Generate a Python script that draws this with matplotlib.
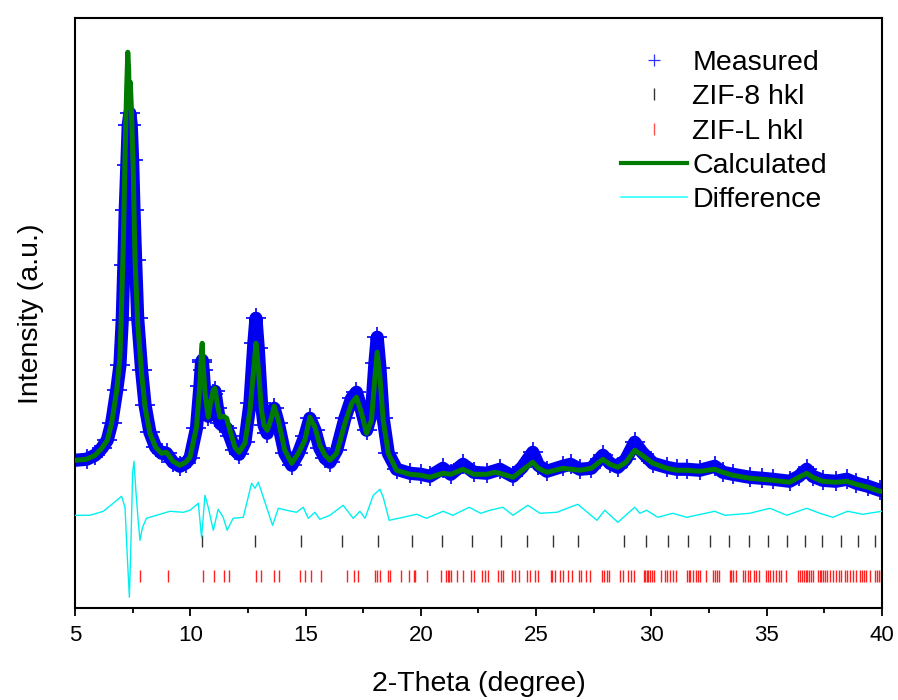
"""Rietveld-style refinement plot for the ZIF-8 / ZIF-L powder pattern.

Measured points, calculated profile, difference curve and the two sets
of hkl reflection markers, all read off the original figure.
"""

import matplotlib
matplotlib.use('Agg')
import matplotlib.pyplot as plt
from matplotlib.lines import Line2D

plt.rcParams['font.family'] = ['Liberation Sans', 'DejaVu Sans']

# measured pattern (2-theta, intensity a.u.)
meas_tth = [5.0, 5.5, 5.87, 6.16, 6.4, 6.59, 6.81, 6.95, 7.05, 7.12, 7.18,
            7.25, 7.31, 7.38, 7.44, 7.50, 7.56, 7.63, 7.72, 7.89, 8.04, 8.25,
            8.5, 8.76, 8.97, 9.25, 9.55, 9.80, 9.99, 10.27, 10.42, 10.49,
            10.52, 10.56, 10.64, 10.78, 10.9, 11.0, 11.07, 11.18, 11.29,
            11.45, 11.58, 11.72, 11.94, 12.12, 12.37, 12.59, 12.76, 12.85,
            12.95, 13.09, 13.20, 13.34, 13.53, 13.64, 13.82, 14.1, 14.4,
            14.69, 14.97, 15.19, 15.41, 15.62, 15.85, 16.06, 16.35, 16.71,
            17.0, 17.21, 17.43, 17.65, 17.86, 18.01, 18.11, 18.23, 18.37,
            18.59, 18.95, 19.53, 20.0, 20.39, 20.96, 21.3, 21.83, 22.3, 22.87,
            23.43, 24.0, 24.4, 24.86, 25.1, 25.47, 26.16, 26.5, 26.9, 27.4,
            27.9, 28.2, 28.55, 28.9, 29.28, 29.6, 30.07, 30.67, 31.1, 31.54,
            32.1, 32.75, 33.1, 33.53, 34.27, 34.8, 35.27, 36.0, 36.4, 36.74,
            37.0, 37.43, 38.0, 38.48, 38.9, 39.4, 39.9, 40.0]
meas_int = [148, 149, 153, 160, 168, 185, 218, 243, 288, 343, 398,
            443, 483, 495, 483, 448, 398, 348, 290, 238, 203, 176,
            161, 155, 155, 146, 142, 145, 150, 180, 222, 246,
            248, 238, 212, 192, 205, 214, 217, 200, 185,
            182, 180, 172, 158, 154, 166, 205, 265, 290,
            260, 205, 183, 175, 192, 200, 185, 155, 143,
            155, 172, 190, 178, 160, 150, 146, 158, 190,
            210, 216, 198, 178, 195, 245, 271, 240, 190,
            155, 139, 135, 134, 132, 140, 134, 144, 136, 135,
            139, 132, 141, 156, 143, 137, 142, 144, 139, 140,
            153, 145, 141, 149, 166, 156, 145, 141, 139, 139,
            138, 142, 136, 134, 131, 130, 129, 127, 132, 139,
            132, 128, 127, 129, 125, 122, 118, 118]

# calculated profile
calc_tth = [5.0, 5.5, 5.87, 6.16, 6.4, 6.59, 6.81, 6.95, 7.02, 7.10, 7.17,
            7.24, 7.29, 7.33, 7.36, 7.40, 7.45, 7.53, 7.60, 7.72, 7.89, 8.04,
            8.25, 8.5, 8.76, 8.97, 9.25, 9.55, 9.80, 9.99, 10.27, 10.42,
            10.49, 10.52, 10.56, 10.64, 10.78, 10.9, 11.0, 11.07, 11.18,
            11.29, 11.45, 11.58, 11.72, 11.94, 12.12, 12.37, 12.59, 12.76,
            12.85, 12.95, 13.09, 13.20, 13.34, 13.53, 13.64, 13.82, 14.1,
            14.4, 14.69, 14.97, 15.19, 15.41, 15.62, 15.85, 16.06, 16.35,
            16.71, 17.0, 17.21, 17.43, 17.65, 17.86, 18.01, 18.11, 18.23,
            18.37, 18.59, 18.95, 19.53, 20.0, 20.39, 20.96, 21.3, 21.83, 22.3,
            22.87, 23.2, 23.43, 24.0, 24.4, 24.86, 25.1, 25.47, 26.16, 26.9,
            27.4, 27.9, 28.2, 28.55, 28.9, 29.28, 29.6, 30.07, 30.67, 31.1,
            31.54, 32.1, 32.75, 33.1, 33.53, 34.27, 34.8, 35.27, 36.0, 36.4,
            36.74, 37.0, 37.43, 38.0, 38.48, 38.9, 39.4, 39.9, 40.0]
calc_int = [148, 149, 153, 160, 168, 185, 218, 251, 301, 368, 451,
            518, 556, 538, 501, 526, 498, 435, 351, 285, 235, 201,
            175, 161, 155, 156, 147, 143, 146, 151, 181, 225,
            258, 265, 243, 215, 191, 208, 218, 220, 203,
            191, 192, 190, 178, 161, 156, 165, 198, 241,
            265, 241, 198, 183, 178, 191, 202, 188, 158,
            145, 155, 168, 191, 181, 163, 153, 148, 155,
            185, 205, 211, 195, 175, 188, 231, 256, 231,
            188, 155, 138, 134, 133, 131, 135, 134, 139, 134,
            134, 136, 135, 131, 138, 146, 140, 136, 140, 138,
            140, 149, 144, 141, 146, 158, 153, 145, 140, 138,
            138, 137, 139, 136, 133, 130, 129, 128, 126, 131,
            135, 131, 127, 126, 127, 124, 121, 117, 117]

# difference curve (already offset below the pattern)
diff_tth = [5.0, 5.65, 6.23, 6.66, 7.02, 7.17, 7.27, 7.36, 7.43, 7.50, 7.56,
            7.64, 7.75, 7.82, 7.93, 8.1, 8.54, 9.12, 9.70, 9.99, 10.35, 10.49,
            10.64, 10.78, 11.0, 11.21, 11.43, 11.6, 11.86, 12.3, 12.66, 12.81,
            12.95, 13.17, 13.57, 13.82, 14.18, 14.61, 14.9, 15.12, 15.41,
            15.62, 16.06, 16.63, 17.07, 17.36, 17.58, 17.94, 18.23, 18.37,
            18.63, 19.24, 19.82, 20.25, 20.97, 21.39, 22.1, 22.6, 23.0, 23.56,
            24.0, 24.64, 25.17, 25.9, 26.81, 27.64, 27.98, 28.55, 29.28, 29.5,
            29.8, 30.28, 30.93, 31.54, 32.75, 33.19, 34.27, 35.14, 35.88,
            36.74, 37.31, 37.87, 38.52, 39.17, 40.0]
diff_int = [93, 93, 97, 105, 112, 101, 51, 11, 68, 135, 147,
            118, 85, 68, 81, 90, 93, 97, 96, 98, 105, 71,
            113, 101, 78, 99, 91, 78, 90, 91, 125, 120,
            126, 111, 83, 100, 98, 96, 101, 90, 96,
            89, 93, 103, 90, 97, 90, 113, 119, 111,
            88, 91, 94, 90, 97, 93, 101, 95, 98, 101,
            93, 103, 95, 96, 104, 88, 98, 86, 101, 95,
            98, 91, 95, 91, 97, 93, 95, 100, 93,
            100, 95, 91, 97, 94, 97]

# reflection positions
zif8_hkl = [10.49, 12.81, 14.80, 16.57, 18.15, 19.60, 20.94, 22.23, 23.46,
            24.59, 25.72, 26.80, 28.81, 29.75, 30.73, 31.60, 32.54, 33.36,
            34.23, 35.07, 35.88, 36.66, 37.42, 38.21, 38.97, 39.69]
zifl_hkl = [7.83, 9.02, 10.54, 11.04, 11.46, 11.67, 12.84, 13.05, 13.62,
            13.86, 14.74, 14.97, 15.22, 15.67, 16.81, 17.11, 17.26, 18.01,
            18.11, 18.23, 18.56, 18.66, 19.14, 19.50, 19.70, 19.77, 20.26,
            20.88, 21.09, 21.16, 21.23, 21.29, 21.55, 21.81, 22.17, 22.32,
            22.64, 22.78, 22.92, 23.36, 23.46, 23.57, 23.96, 24.08, 24.27,
            24.59, 24.73, 24.95, 25.09, 25.63, 25.71, 25.82, 26.03, 26.18,
            26.39, 26.54, 26.86, 26.97, 27.16, 27.33, 27.84, 27.94, 28.06,
            28.17, 28.66, 28.78, 29.00, 29.14, 29.24, 29.67, 29.74, 29.81,
            29.87, 29.94, 30.01, 30.11, 30.44, 30.59, 30.70, 30.80, 30.92,
            31.09, 31.55, 31.62, 31.69, 31.81, 31.93, 32.03, 32.13, 32.39,
            32.68, 32.77, 32.85, 32.94, 33.40, 33.47, 33.55, 33.69, 33.98,
            34.08, 34.20, 34.30, 34.44, 34.56, 34.66, 34.97, 35.08, 35.17,
            35.28, 35.43, 35.54, 35.64, 35.83, 36.37, 36.45, 36.53, 36.61,
            36.69, 36.77, 36.85, 36.94, 37.02, 37.23, 37.30, 37.37, 37.45,
            37.52, 37.60, 37.74, 37.86, 38.03, 38.15, 38.25, 38.39, 38.51,
            38.61, 38.75, 38.87, 39.07, 39.14, 39.21, 39.33, 39.47, 39.72,
            39.79, 39.86, 39.98]

labels = ['Measured', 'ZIF-8 hkl', 'ZIF-L hkl', 'Calculated', 'Difference']


def plot_pattern():
    fig = plt.figure(figsize=(8.98, 7.0), dpi=100)
    ax = fig.add_axes([0.0835, 0.131, 0.8985, 0.843])

    # measured: thick band + crosses
    ax.plot(meas_tth, meas_int, color='#0000ee', lw=9.5, solid_capstyle='butt',
            zorder=2)
    ax.plot(meas_tth, meas_int, ls='none', marker='+', ms=15, mew=1.2,
            color='#0000ff', zorder=2)
    ax.plot(calc_tth, calc_int, color='#007a00', lw=3.6, zorder=3)
    ax.plot(diff_tth, diff_int, color='#00f0f0', lw=1.0, zorder=3)

    ax.vlines(zif8_hkl, 61, 73, color='#333333', lw=1.0)
    ax.vlines(zifl_hkl, 26, 38, color='#ff2020', lw=1.0)

    ax.set_xlim(5, 40)
    ax.set_ylim(0, 590)
    ax.set_xticks(range(5, 41, 5))
    ax.set_xticks([7.5 + 5 * i for i in range(7)], minor=True)
    ax.set_yticks([])
    ax.tick_params(axis='x', which='major', direction='out', length=6,
                   width=1.3, labelsize=16, pad=6)
    ax.tick_params(axis='x', which='minor', direction='out', length=3.5,
                   width=1.3)
    for sp in ax.spines.values():
        sp.set_linewidth(1.5)

    ax.set_xlabel('2-Theta (degree)', fontsize=20.5, labelpad=18)
    ax.set_ylabel('Intensity (a.u.)', fontsize=20.5, labelpad=22)

    handles = [
        Line2D([], [], ls='none', marker='+', ms=8, mew=0.9, color='#3030ff'),
        Line2D([], [], ls='none', marker='|', ms=9, mew=1.0, color='#333333'),
        Line2D([], [], ls='none', marker='|', ms=9, mew=1.0, color='#ff5050'),
        Line2D([], [], color='#007a00', lw=3),
        Line2D([], [], color='#30ffff', lw=1.2),
    ]
    ax.legend(handles, labels, loc='upper left', bbox_to_anchor=(0.677, 0.946),
              frameon=False, fontsize=20.5, handlelength=2.3, handletextpad=0.2,
              labelspacing=0.29, borderpad=0, borderaxespad=0)

    fig.savefig('out.png', dpi=100)


if __name__ == '__main__':
    plot_pattern()
